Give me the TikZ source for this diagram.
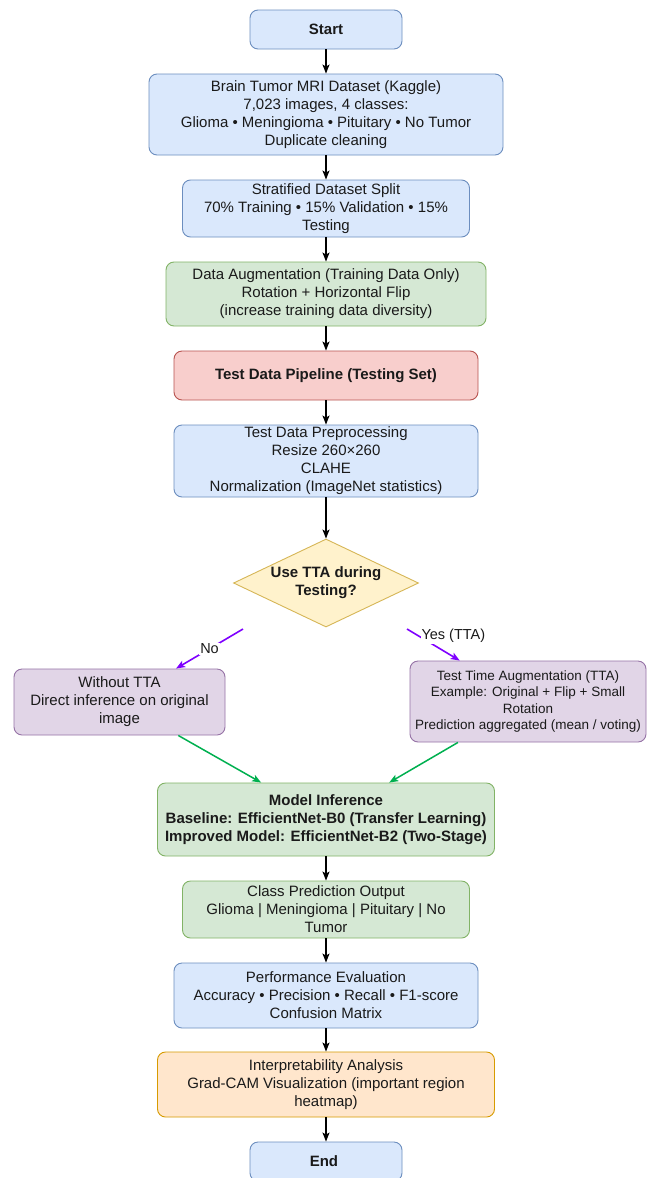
\documentclass[tikz,border=0pt]{standalone}
\usepackage{fontspec}
\setmainfont{Liberation Sans}
\usetikzlibrary{arrows.meta, positioning, shapes.geometric, calc}

\begin{document}
\begin{tikzpicture}[x=1pt, y=-1pt]
  % Define colors
  \definecolor{blueFill}{HTML}{DAE8FC}
  \definecolor{blueLine}{HTML}{6C8EBF}
  \definecolor{greenFill}{HTML}{D5E8D4}
  \definecolor{greenLine}{HTML}{82B366}
  \definecolor{redFill}{HTML}{F8CECC}
  \definecolor{redLine}{HTML}{B85450}
  \definecolor{yellowFill}{HTML}{FFF2CC}
  \definecolor{yellowLine}{HTML}{D6B656}
  \definecolor{purpleFill}{HTML}{E1D5E7}
  \definecolor{purpleLine}{HTML}{9673A6}
  \definecolor{orangeFill}{HTML}{FFE6CC}
  \definecolor{orangeLine}{HTML}{D79B00}
  \definecolor{violetArrow}{HTML}{7F00FF}
  \definecolor{greenArrow}{HTML}{00B050}
  \definecolor{inkText}{HTML}{1A1A1A}

  \tikzset{
    box/.style={draw, rounded corners=8pt, align=center, line width=0.9pt,
                inner sep=2pt, text=inkText, font=\fontsize{15}{18}\selectfont},
    arrow/.style={-{Stealth[length=9pt, width=7pt, inset=2pt]}, line width=1.2pt},
    lbl/.style={fill=white, inner sep=1pt, text=inkText, font=\fontsize{14.5}{16}\selectfont}
  }

  % Page background
  \fill[white] (0,0) rectangle (650,1178);
  \useasboundingbox (0,0) rectangle (650,1178);

  % Main column boxes (name/y/width/height/fill/line/text)
  \foreach \name/\y/\w/\h/\fillc/\linec/\txt in {
    start/29.5/152/39/blueFill/blueLine/{\textbf{Start}},
    dataset/114.5/354/81/blueFill/blueLine/{Brain Tumor MRI Dataset (Kaggle)\\7,023 images, 4 classes:\\Glioma • Meningioma • Pituitary • No Tumor\\Duplicate cleaning},
    split/208.5/287/57/blueFill/blueLine/{Stratified Dataset Split\\70\% Training • 15\% Validation • 15\%\\Testing},
    augment/294/320/64/greenFill/greenLine/{Data Augmentation (Training Data Only)\\Rotation + Horizontal Flip\\(increase training data diversity)},
    pipeline/375.5/304/49/redFill/redLine/{\textbf{Test Data Pipeline (Testing Set)}},
    prep/461/304/72/blueFill/blueLine/{Test Data Preprocessing\\Resize 260×260\\CLAHE\\Normalization (ImageNet statistics)},
    model/819.5/337/73/greenFill/greenLine/{\textbf{Model Inference}\\\textbf{Baseline: EfficientNet-B0 (Transfer Learning)}\\\textbf{Improved Model: EfficientNet-B2 (Two-Stage)}},
    predict/909.5/287/57/greenFill/greenLine/{Class Prediction Output\\Glioma | Meningioma | Pituitary | No\\Tumor},
    evaluate/995.5/304/65/blueFill/blueLine/{Performance Evaluation\\Accuracy • Precision • Recall • F1-score\\Confusion Matrix},
    explain/1084.5/337/65/orangeFill/orangeLine/{Interpretability Analysis\\Grad-CAM Visualization (important region\\heatmap)},
    finish/1161.5/152/39/blueFill/blueLine/{\textbf{End}}
  } {
    \node[box, fill=\fillc, draw=\linec, minimum width=\w, minimum height=\h] (\name) at (326,\y) {\txt};
  }

  % Decision diamond
  \node[diamond, draw=yellowLine, fill=yellowFill, line width=0.9pt, aspect=2.1,
        minimum width=185, minimum height=88, inner sep=0pt, align=center,
        text=inkText, font=\fontsize{15}{18}\selectfont\bfseries] (decide) at (326,583)
        {Use TTA during\\Testing?};

  % Branch boxes
  \node[box, fill=purpleFill, draw=purpleLine, minimum width=211, minimum height=66]
        (noTTA) at (119.5,702) {Without TTA\\Direct inference on original\\image};
  \node[box, fill=purpleFill, draw=purpleLine, minimum width=236, minimum height=81,
        font=\fontsize{13.5}{16.3}\selectfont]
        (withTTA) at (528,701.5) {Test Time Augmentation (TTA)\\Example: Original + Flip + Small\\Rotation\\Prediction aggregated (mean / voting)};

  % Straight arrows down the main column
  \foreach \a/\b in {start/dataset, dataset/split, split/augment, augment/pipeline,
                     pipeline/prep, prep/decide, model/predict, predict/evaluate,
                     evaluate/explain, explain/finish} {
    \draw[arrow] (\a) -- (\b);
  }

  % Branch arrows from the decision
  \coordinate (noFrom) at (243,629);
  \coordinate (yesFrom) at (407,629);
  \draw[arrow, violetArrow, line width=1.6pt] (noFrom) -- (noTTA) node[lbl, pos=0.5] {No};
  \draw[arrow, violetArrow, line width=1.6pt] (yesFrom) -- (withTTA) node[lbl, pos=0.5, xshift=20pt, yshift=9pt] {Yes (TTA)};

  % Merge arrows into model inference
  \draw[arrow, greenArrow, line width=1.5pt] (noTTA) -- (model);
  \draw[arrow, greenArrow, line width=1.5pt] (withTTA) -- (model);
\end{tikzpicture}
\end{document}
